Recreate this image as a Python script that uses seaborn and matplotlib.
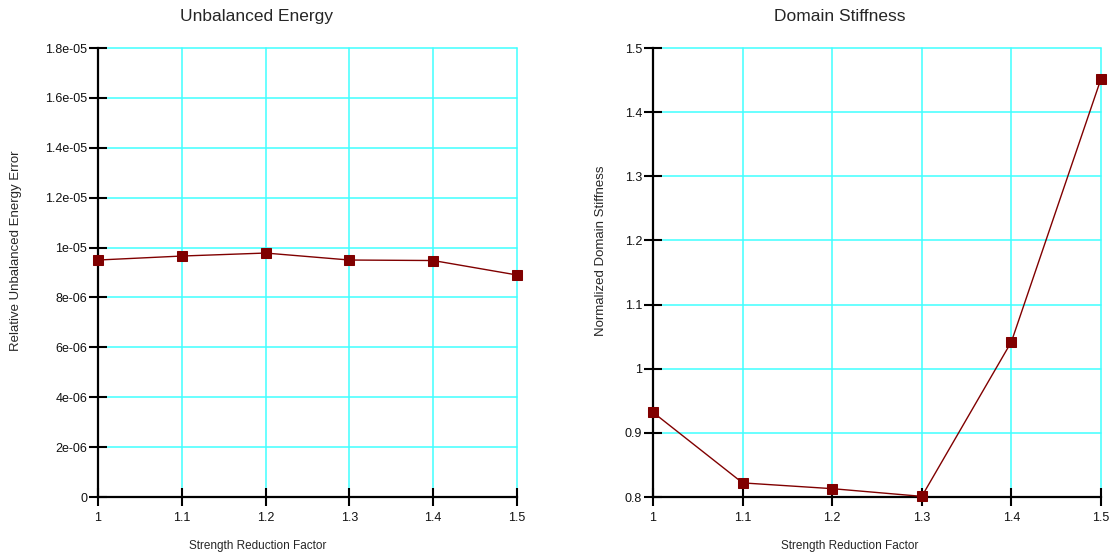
import matplotlib
matplotlib.use("Agg")
import matplotlib.pyplot as plt
import matplotlib.ticker as mticker
import seaborn as sns
import pandas as pd

srf = [1.0, 1.1, 1.2, 1.3, 1.4, 1.5]
energy_error = [9.50e-06, 9.66e-06, 9.78e-06, 9.50e-06, 9.48e-06, 8.90e-06]
stiffness = [0.932, 0.822, 0.813, 0.801, 1.042, 1.452]

sns.set_style("white")
plt.rcParams['font.family'] = ['Liberation Sans', 'DejaVu Sans']

fig = plt.figure(figsize=(11.14, 5.59), dpi=100)
ax1 = fig.add_axes([98/1114, 1-497/559, 419/1114, 449/559])
ax2 = fig.add_axes([653/1114, 1-497/559, 448/1114, 449/559])

dark_red = "#800000"
fmt = mticker.FuncFormatter(lambda v, p: "0" if abs(v) < 1e-12 else "%g" % v)

def style(ax, ylo, yhi, ystep, title, ylabel, title_x, xlabel_x, ylabel_x):
    ax.set_xlim(1.0, 1.5)
    ax.set_ylim(ylo, yhi)
    ax.xaxis.set_major_locator(mticker.MultipleLocator(0.1))
    ax.yaxis.set_major_locator(mticker.MultipleLocator(ystep))
    ax.xaxis.set_major_formatter(fmt)
    ax.yaxis.set_major_formatter(fmt)
    ax.grid(True, color="#40ffff", linewidth=1.1)
    ax.set_axisbelow(True)
    for gl in ax.get_xgridlines() + ax.get_ygridlines():
        gl.set_clip_on(False)
    for s in ["top", "right"]:
        ax.spines[s].set_visible(False)
    for s in ["left", "bottom"]:
        ax.spines[s].set_color("black")
        ax.spines[s].set_linewidth(1.6)
        ax.spines[s].set_zorder(3)
    ax.tick_params(axis="both", which="major", direction="inout", length=13.5,
                   width=1.5, color="black", labelsize=9, labelcolor="#111111",
                   bottom=True, left=True)
    ax.tick_params(axis="x", pad=4)
    ax.tick_params(axis="y", pad=1)
    ax.set_title(title, fontsize=12.5, pad=0, x=title_x, y=1.06)
    ax.set_xlabel("Strength Reduction Factor", fontsize=8.5)
    ax.set_ylabel(ylabel, fontsize=9.5)
    ax.xaxis.set_label_coords(xlabel_x, -0.096)
    ax.yaxis.set_label_coords(ylabel_x, 0.548)

df1 = pd.DataFrame({"srf": srf, "val": energy_error})
df2 = pd.DataFrame({"srf": srf, "val": stiffness})

sns.lineplot(data=df1, x="srf", y="val", ax=ax1, color=dark_red, linewidth=1.0,
             marker="s", markersize=7, markeredgecolor=dark_red, clip_on=False, zorder=4)
sns.lineplot(data=df2, x="srf", y="val", ax=ax2, color=dark_red, linewidth=1.0,
             marker="s", markersize=7, markeredgecolor=dark_red, clip_on=False, zorder=4)

style(ax1, 0, 1.8e-05, 2e-06, "Unbalanced Energy", "Relative Unbalanced Energy Error",
      0.379, 0.382, -0.182)
style(ax2, 0.8, 1.5, 0.1, "Domain Stiffness", "Normalized Domain Stiffness",
      0.417, 0.44, -0.103)

fig.savefig("out.png", dpi=100)
